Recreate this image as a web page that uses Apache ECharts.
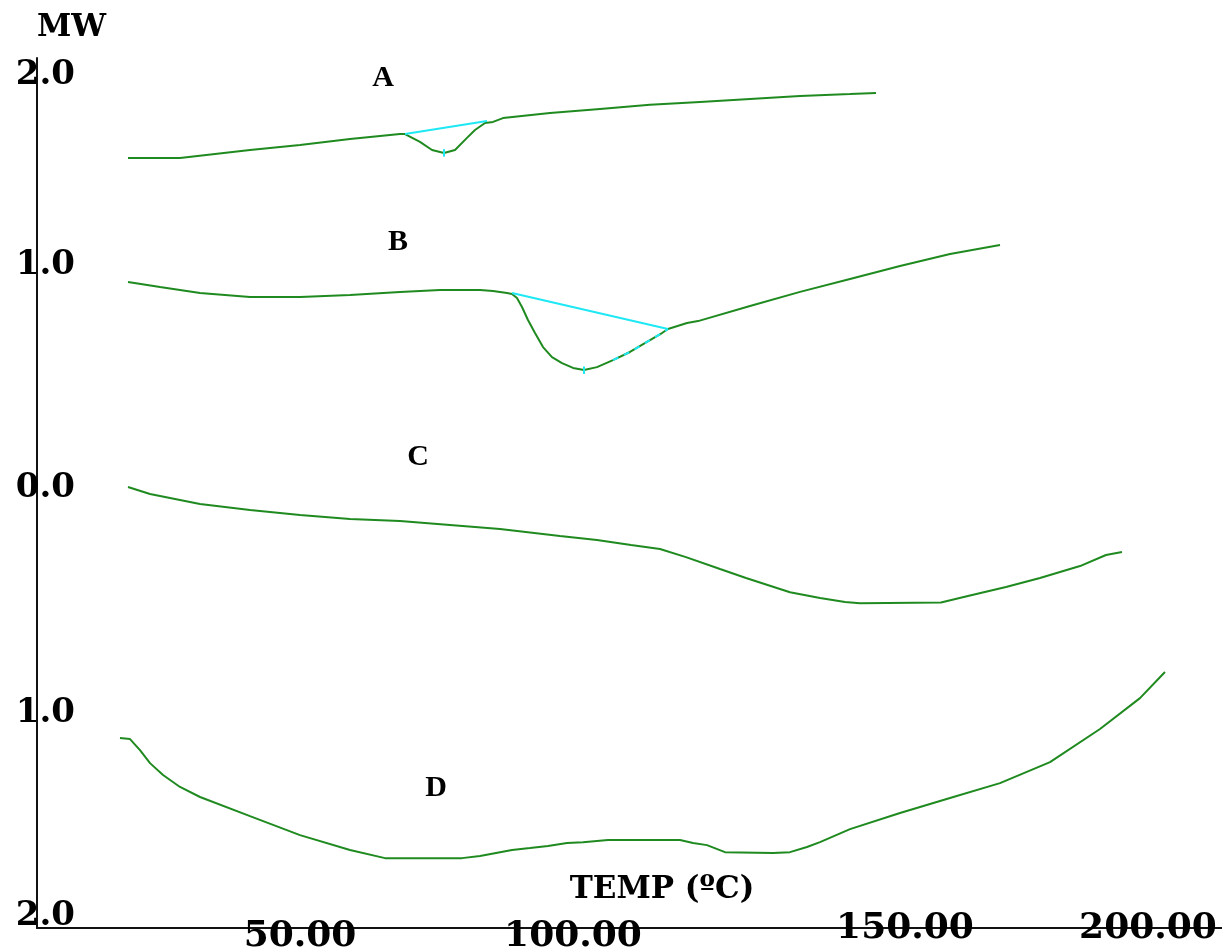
<html>
<head>
    <meta http-equiv="Content-Type" content="text/html; charset=utf-8" />
    <title>DSC</title>
    <script src="https://cdn.jsdelivr.net/npm/echarts@6/dist/echarts.min.js"></script>
    <style>
        html, body { margin: 0; padding: 0; background: #fff; }
    </style>
</head>
<body>
    <div id="main" style="width:1222px;height:951px"></div>

    <script type="text/javascript">
        // tick labels
        var xTickValues = [50, 100, 150, 200];
        var xTickLabels = ['50.00', '100.00', '150.00', '200.00'];
        var yTickValues = [2, 1, 0, -1, -2];
        var yTickLabels = ['2.0', '1.0', '0.0', '1.0', '2.0'];

        // curves: [temp, mW]
        var curveA = [
            [20.14, 1.559], [29.17, 1.559], [41.32, 1.596], [50.0, 1.620], [58.68, 1.648],
            [67.36, 1.671], [68.23, 1.671], [70.83, 1.634], [72.92, 1.596], [75.0, 1.582],
            [76.91, 1.596], [78.99, 1.653], [80.38, 1.690], [82.12, 1.723], [83.51, 1.728],
            [85.24, 1.746], [93.40, 1.770], [102.08, 1.789], [110.76, 1.808], [119.44, 1.822],
            [128.13, 1.836], [136.81, 1.850], [145.49, 1.859], [150.0, 1.864]
        ];
        var curveB = [
            [20.14, 0.977], [25.69, 0.953], [32.64, 0.925], [41.32, 0.906], [50.0, 0.906],
            [58.68, 0.915], [67.36, 0.930], [74.31, 0.939], [81.25, 0.939], [83.51, 0.934],
            [85.94, 0.925], [86.81, 0.920], [87.67, 0.901], [88.54, 0.859], [89.58, 0.798],
            [90.80, 0.737], [92.19, 0.671], [93.75, 0.624], [95.49, 0.596], [97.40, 0.573],
            [99.31, 0.563], [101.56, 0.577], [104.34, 0.610], [107.29, 0.648], [110.24, 0.695],
            [112.85, 0.737], [113.89, 0.756], [117.19, 0.784], [119.10, 0.793], [128.13, 0.864],
            [136.81, 0.930], [145.49, 0.991], [154.17, 1.052], [162.85, 1.108], [171.53, 1.150]
        ];
        var curveC = [
            [20.14, 0.014], [23.96, -0.019], [32.64, -0.066], [41.32, -0.094], [50.0, -0.117],
            [58.68, -0.136], [67.36, -0.146], [76.04, -0.164], [84.72, -0.183], [95.14, -0.216],
            [101.56, -0.235], [107.47, -0.258], [112.5, -0.277], [117.01, -0.315], [122.92, -0.371],
            [127.43, -0.413], [135.07, -0.480], [140.28, -0.507], [144.62, -0.526], [147.22, -0.531],
            [161.28, -0.528], [166.32, -0.495], [172.57, -0.455], [178.47, -0.413], [185.42, -0.357],
            [189.93, -0.305], [192.71, -0.291]
        ];
        var curveD = [
            [18.75, -1.164], [20.49, -1.169], [22.22, -1.221], [23.96, -1.282], [26.22, -1.338],
            [29.17, -1.394], [32.64, -1.441], [41.32, -1.531], [50.0, -1.620], [58.68, -1.690],
            [64.76, -1.728], [78.13, -1.728], [81.25, -1.718], [86.81, -1.690], [89.93, -1.681],
            [93.06, -1.671], [96.35, -1.657], [99.13, -1.653], [103.47, -1.643], [115.97, -1.643],
            [118.23, -1.657], [120.66, -1.667], [123.78, -1.700], [132.12, -1.704], [135.07, -1.700],
            [138.02, -1.676], [140.28, -1.653], [145.49, -1.592], [154.17, -1.516], [162.85, -1.446],
            [171.53, -1.376], [180.21, -1.277], [188.89, -1.122], [195.83, -0.977], [200.17, -0.854]
        ];

        // baselines and peak marks
        var baseA = [[68.23, 1.671], [82.47, 1.732]];
        var baseB = [[86.81, 0.925], [113.89, 0.756]];
        var tailB = [[104.34, 0.610], [107.29, 0.648], [110.24, 0.695], [112.85, 0.737], [113.89, 0.756]];
        var minA = [[75.0, 1.565], [75.0, 1.600]];
        var minB = [[99.31, 0.545], [99.31, 0.580]];

        var curveNames = ['A', 'B', 'C', 'D'];

        var green = '#1f8a1f';
        var cyan = '#1ee8f4';

        function lineSeries(name, data, color, dashed) {
            return {
                name: name,
                type: 'line',
                data: data,
                showSymbol: false,
                silent: true,
                lineStyle: { color: color, width: 2, type: dashed ? [6, 6] : 'solid' },
                z: color == cyan ? 3 : 2
            };
        }

        function letter(i, x, y) {
            return {
                type: 'text', x: x, y: y,
                style: {
                    text: curveNames[i], font: 'bold 30px "Liberation Serif"', fill: '#000',
                    align: 'center', verticalAlign: 'middle'
                }
            };
        }

        var option = {
            animation: false,
            backgroundColor: '#fff',
            grid: {
                left: 37,
                right: 0,
                top: 58,
                bottom: 23,
                outerBoundsMode: 'none'
            },
            xAxis: {
                type: 'value',
                min: 4.34,
                max: 210.07,
                axisLine: { onZero: false, lineStyle: { color: '#111', width: 2 } },
                axisTick: { show: false },
                splitLine: { show: false },
                axisLabel: {
                    customValues: xTickValues,
                    margin: 9,
                    verticalAlign: 'middle',
                    fontFamily: 'DejaVu Serif',
                    fontWeight: 'bold',
                    fontSize: 36,
                    color: '#000',
                    formatter: function (v) {
                        var i = xTickValues.indexOf(v);
                        return i >= 0 ? '{x' + i + '|' + xTickLabels[i] + '}' : '';
                    },
                    rich: {
                        x0: {},
                        x1: { padding: [0, 30, 0, 0] },
                        x2: { padding: [0, 0, 16, 58] },
                        x3: { padding: [0, 32, 16, 0] }
                    }
                }
            },
            yAxis: {
                type: 'value',
                min: -2.056,
                max: 2.028,
                name: 'MW',
                nameLocation: 'end',
                nameGap: 15,
                nameTextStyle: {
                    fontFamily: 'DejaVu Serif',
                    fontWeight: 'bold',
                    fontSize: 31,
                    color: '#000',
                    align: 'left'
                },
                axisLine: { lineStyle: { color: '#111', width: 2 } },
                axisTick: { show: false },
                splitLine: { show: false },
                axisLabel: {
                    customValues: yTickValues,
                    margin: -38,
                    fontFamily: 'DejaVu Serif',
                    fontWeight: 'bold',
                    fontSize: 34,
                    color: '#000',
                    formatter: function (v) {
                        var i = yTickValues.indexOf(v);
                        return i >= 0 ? '{y' + i + '|' + yTickLabels[i] + '}' : '';
                    },
                    rich: {
                        y0: { padding: [22, 0, 0, 0] },
                        y1: { padding: [0, 0, 24, 0] },
                        y2: { padding: [0, 0, 4, 0] },
                        y3: { padding: [20, 0, 0, 0] },
                        y4: {}
                    }
                }
            },
            graphic: [
                letter(0, 383, 78),
                letter(1, 398, 242),
                letter(2, 418, 457),
                letter(3, 436, 788),
                {
                    type: 'text', x: 662, y: 890,
                    style: {
                        text: 'TEMP (ºC)', font: 'bold 31px "DejaVu Serif"', fill: '#000',
                        align: 'center', verticalAlign: 'middle'
                    }
                }
            ],
            series: [
                lineSeries('A', curveA, green),
                lineSeries('B', curveB, green),
                lineSeries('C', curveC, green),
                lineSeries('D', curveD, green),
                lineSeries('baseA', baseA, cyan),
                lineSeries('baseB', baseB, cyan),
                lineSeries('tailB', tailB, cyan, true),
                lineSeries('minA', minA, cyan),
                lineSeries('minB', minB, cyan)
            ]
        };

        var myChart = echarts.init(document.getElementById('main'));
        myChart.setOption(option);
    </script>
</body>
</html>
